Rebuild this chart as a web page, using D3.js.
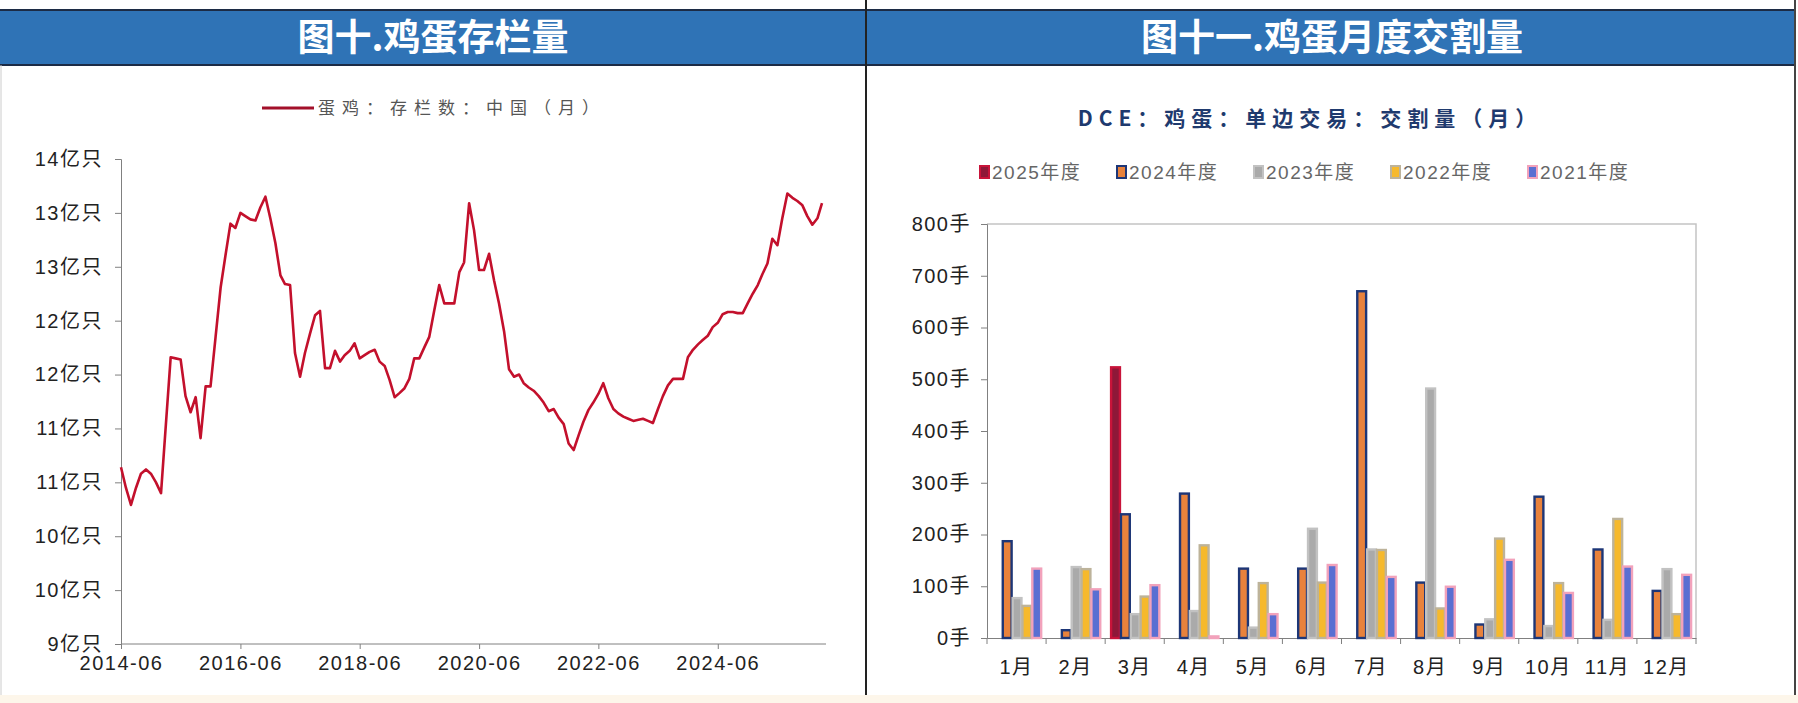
<!DOCTYPE html>
<meta charset="utf-8">
<script src="https://d3js.org/d3.v7.min.js"></script>
<style>
  body { margin: 0; background: #fff; }
  text { font-family: "Liberation Sans", "Noto Sans CJK SC", sans-serif; }
</style>
<div id="my_div"></div>
<script>
// ---- left chart data: egg-laying hens inventory, monthly from 2014-06 (亿只)
var startMonth = "2014-06";
var stockValues = [
  10.64, 10.45, 10.29, 10.45, 10.58, 10.62, 10.58, 10.50, 10.40, 11.00,
  11.66, 11.65, 11.64, 11.30, 11.15, 11.29, 10.91, 11.39, 11.39, 11.85,
  12.31, 12.60, 12.90, 12.86, 13.00, 12.97, 12.94, 12.93, 13.05, 13.15,
  12.95, 12.72, 12.42, 12.34, 12.33, 11.70, 11.48, 11.70, 11.88, 12.05,
  12.09, 11.56, 11.56, 11.72, 11.62, 11.68, 11.72, 11.79, 11.65, 11.68,
  11.71, 11.73, 11.62, 11.58, 11.45, 11.29, 11.33, 11.37, 11.46, 11.65,
  11.65, 11.75, 11.85, 12.10, 12.33, 12.16, 12.16, 12.16, 12.45, 12.54,
  13.09, 12.84, 12.47, 12.47, 12.62, 12.37, 12.16, 11.90, 11.55, 11.48,
  11.50, 11.42, 11.38, 11.35, 11.30, 11.24, 11.16, 11.18, 11.10, 11.04,
  10.86, 10.80, 10.94, 11.06, 11.17, 11.24, 11.32, 11.42, 11.28, 11.18,
  11.14, 11.11, 11.09, 11.07, 11.08, 11.09, 11.07, 11.05, 11.18, 11.30,
  11.40, 11.46, 11.46, 11.46, 11.66, 11.73, 11.78, 11.82, 11.86, 11.94,
  11.98, 12.06, 12.08, 12.08, 12.07, 12.07, 12.16, 12.25, 12.33, 12.43,
  12.53, 12.76, 12.70, 12.95, 13.18, 13.14, 13.11, 13.07, 12.97, 12.89,
  12.95, 13.09
];
var stockTicks = [9, 9.5, 10, 10.5, 11, 11.5, 12, 12.5, 13, 13.5];
var dateTicks = ["2014-06", "2016-06", "2018-06", "2020-06", "2022-06", "2024-06"];
var stockLegend = "蛋鸡：存栏数：中国（月）";

// ---- right chart data: DCE egg monthly delivery (手)
var months = ["1月","2月","3月","4月","5月","6月","7月","8月","9月","10月","11月","12月"];
var seasons = ["2025年度","2024年度","2023年度","2022年度","2021年度"];
var v2025 = [null, null, 525, null, null, null, null, null, null, null, null, null];
var v2024 = [189, 17, 241, 281, 136, 136, 672, 109, 28, 275, 173, 93];
var v2023 = [79, 139, 48, 54, 22, 213, 173, 484, 38, 25, 37, 135];
var v2022 = [64, 135, 82, 181, 108, 109, 172, 59, 194, 108, 232, 48];
var v2021 = [136, 96, 104, 5, 48, 143, 120, 101, 153, 89, 140, 124];
var volTicks = [0, 100, 200, 300, 400, 500, 600, 700, 800];

var W = 1798, H = 703;
var svg = d3.select("#my_div").append("svg")
  .attr("width", W).attr("height", H);

svg.append("rect").attr("width", W).attr("height", H).attr("fill", "#fff");
// bottom strip
svg.append("rect").attr("x", 0).attr("y", 695).attr("width", W).attr("height", 8).attr("fill", "#fdf6ea");

// header band
svg.append("rect").attr("x", 0).attr("y", 10).attr("width", 1795).attr("height", 55)
  .attr("fill", "#2f73b6");
svg.append("line").attr("x1", 0).attr("x2", 1795).attr("y1", 10).attr("y2", 10)
  .attr("stroke", "#1c2b45").attr("stroke-width", 2);
svg.append("line").attr("x1", 0).attr("x2", 1795).attr("y1", 65).attr("y2", 65)
  .attr("stroke", "#1c2b45").attr("stroke-width", 2);
// panel borders
svg.append("line").attr("x1", 866).attr("x2", 866).attr("y1", 0).attr("y2", 695)
  .attr("stroke", "#222").attr("stroke-width", 2);
svg.append("line").attr("x1", 1795).attr("x2", 1795).attr("y1", 0).attr("y2", 695)
  .attr("stroke", "#444").attr("stroke-width", 2);
svg.append("line").attr("x1", 1).attr("x2", 1).attr("y1", 65).attr("y2", 695)
  .attr("stroke", "#ccc").attr("stroke-width", 1);

svg.append("text").attr("x", 433).attr("y", 51).attr("text-anchor", "middle")
  .style("font-family", "'Noto Sans CJK SC'").style("font-weight", "bold")
  .style("font-size", "37px").attr("fill", "#fff").text("图十.鸡蛋存栏量");
svg.append("text").attr("x", 1332).attr("y", 51).attr("text-anchor", "middle")
  .style("font-family", "'Noto Sans CJK SC'").style("font-weight", "bold")
  .style("font-size", "37px").attr("fill", "#fff").text("图十一.鸡蛋月度交割量");

// ================= left chart =================
var parseM = d3.timeParse("%Y-%m");
var t0 = parseM(startMonth);
var stock = stockValues.map(function(v, i) { return {date: d3.timeMonth.offset(t0, i), value: v}; });

var xL = d3.scaleTime()
  .domain([t0, stock[stock.length - 1].date])
  .range([121, 822]);
var yL = d3.scaleLinear().domain([9, 13.5]).range([644, 159]);

var gL = svg.append("g");

gL.append("g")
  .attr("transform", "translate(121,0)")
  .call(d3.axisLeft(yL).tickValues(stockTicks).tickSize(6)
    .tickFormat(function(d) { return Math.round(d) + "亿只"; }))
  .call(function(g) {
    g.select(".domain").attr("stroke", "#808080");
    g.selectAll(".tick line").attr("stroke", "#808080");
    g.selectAll(".tick text").attr("fill", "#222").style("font-size", "20px")
      .style("letter-spacing", "1.5px").attr("x", -18);
  });

gL.append("g")
  .attr("transform", "translate(0,644)")
  .call(d3.axisBottom(xL).tickValues(dateTicks.map(parseM)).tickSize(5)
    .tickFormat(d3.timeFormat("%Y-%m")))
  .call(function(g) {
    g.select(".domain").attr("stroke", "#808080").attr("d", "M121,0H826");
    g.selectAll(".tick line").attr("stroke", "#808080");
    g.selectAll(".tick text").attr("fill", "#222").style("font-size", "20px")
      .style("letter-spacing", "1.5px").attr("y", 12);
  });

gL.append("path")
  .datum(stock)
  .attr("fill", "none")
  .attr("stroke", "#c3102c")
  .attr("stroke-width", 2.6)
  .attr("stroke-linejoin", "round")
  .attr("d", d3.line().x(function(d) { return xL(d.date); }).y(function(d) { return yL(d.value); }));

// legend
gL.append("line").attr("x1", 262).attr("x2", 314).attr("y1", 108).attr("y2", 108)
  .attr("stroke", "#a3102a").attr("stroke-width", 3);
gL.append("text").attr("x", 318).attr("y", 114)
  .style("font-family", "'Noto Sans CJK SC'").style("font-size", "17px")
  .style("letter-spacing", "7px").attr("fill", "#555").text(stockLegend);

// ================= right chart =================
var series = [v2025, v2024, v2023, v2022, v2021];
var fills = ["#8e1838", "#e8823c", "#aaaaaa", "#f6b92c", "#5a6fd2"];
var strokes = ["#c8143a", "#1d3677", "#c2c2c2", "#bdb39a", "#f2a2bb"];

var x0 = d3.scaleBand().domain(months).range([987, 1696]).padding(0);
var x1 = d3.scaleBand().domain(seasons).range([0, x0.bandwidth()]).paddingInner(0).paddingOuter(0.5);
var yR = d3.scaleLinear().domain([0, 800]).range([638, 224]);

var gR = svg.append("g");

gR.append("text").attr("x", 1310).attr("y", 126).attr("text-anchor", "middle")
  .style("font-family", "'Noto Sans CJK SC'").style("font-weight", "bold")
  .style("font-size", "21px").style("letter-spacing", "6px")
  .attr("fill", "#1f3a6e").text("DCE：鸡蛋：单边交易：交割量（月）");

// plot frame (top/right)
gR.append("path").attr("d", "M987,224H1696V638").attr("fill", "none")
  .attr("stroke", "#c4c4c4").attr("stroke-width", 1.5);

gR.append("g")
  .attr("transform", "translate(987,0)")
  .call(d3.axisLeft(yR).tickValues(volTicks).tickSize(6)
    .tickFormat(function(d) { return d + "手"; }))
  .call(function(g) {
    g.select(".domain").attr("stroke", "#808080");
    g.selectAll(".tick line").attr("stroke", "#808080");
    g.selectAll(".tick text").attr("fill", "#222").style("font-size", "20px")
      .style("letter-spacing", "1.5px").attr("x", -16);
  });

gR.append("g")
  .attr("transform", "translate(0,638)")
  .call(d3.axisBottom(x0).tickSize(0))
  .call(function(g) {
    g.select(".domain").attr("stroke", "#808080");
    g.selectAll(".tick text").attr("fill", "#222").style("font-size", "20px")
      .style("letter-spacing", "1.5px").attr("y", 22);
  });
// category separator ticks
gR.append("g").selectAll("line")
  .data(months.concat(["end"]))
  .enter().append("line")
  .attr("x1", function(d, i) { return i < months.length ? x0(d) : x0.range()[1]; })
  .attr("x2", function(d, i) { return i < months.length ? x0(d) : x0.range()[1]; })
  .attr("y1", 638).attr("y2", 644)
  .attr("stroke", "#808080");

var barData = [];
months.forEach(function(m, i) {
  seasons.forEach(function(s, j) {
    var v = series[j][i];
    if (v != null) barData.push({month: m, season: s, k: j, value: v});
  });
});

gR.append("g").selectAll("rect")
  .data(barData)
  .enter().append("rect")
  .attr("x", function(d) { return x0(d.month) + x1(d.season) + 1; })
  .attr("y", function(d) { return yR(d.value) + 1; })
  .attr("width", x1.bandwidth() - 1)
  .attr("height", function(d) { return Math.max(0, yR(0) - yR(d.value) - 1); })
  .attr("fill", function(d) { return fills[d.k]; })
  .attr("stroke", function(d) { return strokes[d.k]; })
  .attr("stroke-width", 2.4);

// legend
var leg = gR.append("g").selectAll("g")
  .data(seasons)
  .enter().append("g")
  .attr("transform", function(d, i) { return "translate(" + (980 + i * 137) + ",166)"; });
leg.append("rect").attr("width", 9).attr("height", 12)
  .attr("fill", function(d, i) { return fills[i]; })
  .attr("stroke", function(d, i) { return strokes[i]; })
  .attr("stroke-width", 2);
leg.append("text").attr("x", 12).attr("y", 13)
  .style("font-size", "19px").style("letter-spacing", "1.5px")
  .attr("fill", "#666").text(function(d) { return d; });
</script>
